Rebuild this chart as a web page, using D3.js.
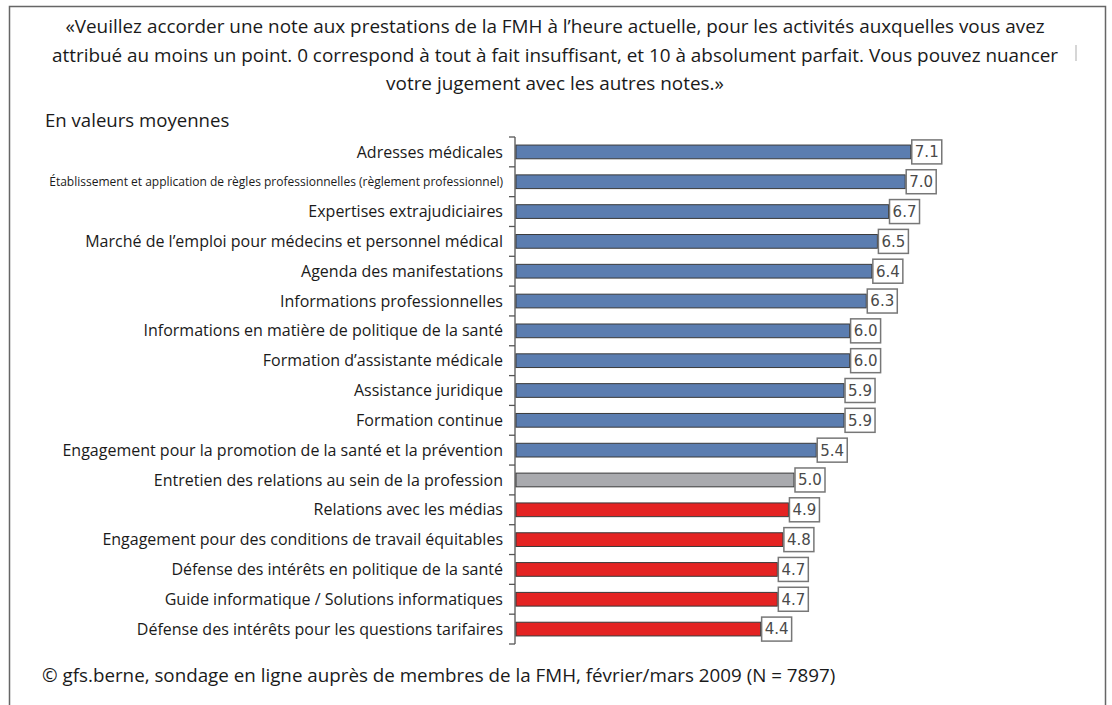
<!DOCTYPE html>
<html>
<head>
<meta charset="utf-8">
<script src="https://cdn.jsdelivr.net/npm/d3@7"></script>
<style>
  body { margin: 0; background: #fff; }
  svg { display: block; }
</style>
</head>
<body>
<script>
// Données
var categories = [
	"Adresses médicales",
	"Établissement et application de règles professionnelles (règlement professionnel)",
	"Expertises extrajudiciaires",
	"Marché de l’emploi pour médecins et personnel médical",
	"Agenda des manifestations",
	"Informations professionnelles",
	"Informations en matière de politique de la santé",
	"Formation d’assistante médicale",
	"Assistance juridique",
	"Formation continue",
	"Engagement pour la promotion de la santé et la prévention",
	"Entretien des relations au sein de la profession",
	"Relations avec les médias",
	"Engagement pour des conditions de travail équitables",
	"Défense des intérêts en politique de la santé",
	"Guide informatique / Solutions informatiques",
	"Défense des intérêts pour les questions tarifaires"
];
var values = [7.1, 7.0, 6.7, 6.5, 6.4, 6.3, 6.0, 6.0, 5.9, 5.9, 5.4, 5.0, 4.9, 4.8, 4.7, 4.7, 4.4];
var groups = ["pos", "pos", "pos", "pos", "pos", "pos", "pos", "pos", "pos", "pos", "pos", "neutre", "neg", "neg", "neg", "neg", "neg"];
var titleLines = [
	"«Veuillez accorder une note aux prestations de la FMH à l’heure actuelle, pour les activités auxquelles vous avez",
	"attribué au moins un point. 0 correspond à tout à fait insuffisant, et 10 à absolument parfait. Vous pouvez nuancer",
	"votre jugement avec les autres notes.»"
];
var subtitle = "En valeurs moyennes";
var source = "© gfs.berne, sondage en ligne auprès de membres de la FMH, février/mars 2009 (N = 7897)";

var data = categories.map(function (c, i) {
	return {name: c, value: values[i], group: groups[i]};
});

// Dimensions
var w = 1112, h = 705;
var font = "'Open Sans', 'Noto Sans', sans-serif";

var svg = d3.select("body").append("svg")
	.attr("width", w)
	.attr("height", h);

// Cadre
svg.append("path")
	.attr("d", "M9.5," + h + "V6.5H1105.5V" + h)
	.attr("fill", "none")
	.attr("stroke", "#666")
	.attr("stroke-width", 1.5);

// petite marque parasite à droite
svg.append("line")
	.attr("x1", 1076).attr("x2", 1076)
	.attr("y1", 45).attr("y2", 61)
	.attr("stroke", "#bbb")
	.attr("stroke-width", 1.2);

// Titre
svg.selectAll(".title").data(titleLines).enter()
	.append("text")
	.attr("class", "title")
	.attr("x", 555)
	.attr("y", function (d, i) { return 33 + i * 28.5; })
	.attr("text-anchor", "middle")
	.style("font-family", font)
	.style("font-size", "18.9px")
	.style("fill", "#1a1a1a")
	.text(function (d) { return d; });

svg.append("text")
	.attr("x", 45)
	.attr("y", 127)
	.style("font-family", font)
	.style("font-size", "18.6px")
	.style("fill", "#1a1a1a")
	.text(subtitle);

svg.append("text")
	.attr("x", 42)
	.attr("y", 682)
	.style("font-family", font)
	.style("font-size", "18.8px")
	.style("fill", "#1a1a1a")
	.text(source);

// Échelles
var x = d3.scaleLinear().domain([0, 10]).range([516, 1072]);
var y = d3.scaleBand().domain(categories).range([137, 644]).paddingInner(0.54).paddingOuter(0.27);

var color = d3.scaleOrdinal()
	.domain(["pos", "neutre", "neg"])
	.range(["#5b7db0", "#a9aaae", "#e42322"]);

// Axe
var axis = svg.append("g")
	.attr("transform", "translate(515,0)");
axis.append("line")
	.attr("y1", 137).attr("y2", 644)
	.attr("stroke", "#555").attr("stroke-width", 1.3);
var bounds = d3.range(categories.length + 1).map(function (i) {
	return 137 + i * (644 - 137) / categories.length;
});
axis.selectAll(".tick").data(bounds).enter()
	.append("line")
	.attr("x1", -6).attr("x2", 0)
	.attr("y1", function (d) { return d; })
	.attr("y2", function (d) { return d; })
	.attr("stroke", "#555").attr("stroke-width", 1.3);

// Étiquettes des catégories
svg.selectAll(".cat").data(data).enter()
	.append("text")
	.attr("class", "cat")
	.attr("x", 503)
	.attr("y", function (d) { return y(d.name) + y.bandwidth() / 2; })
	.attr("dy", "0.35em")
	.attr("text-anchor", "end")
	.style("font-family", font)
	.style("font-size", function (d, i) { return i === 1 ? "12px" : "16px"; })
	.style("fill", "#1a1a1a")
	.text(function (d) { return d.name; });

// Barres
svg.selectAll(".bar").data(data).enter()
	.append("rect")
	.attr("class", "bar")
	.attr("x", x(0))
	.attr("y", function (d) { return y(d.name); })
	.attr("width", function (d) { return x(d.value) - x(0); })
	.attr("height", y.bandwidth())
	.attr("fill", function (d) { return color(d.group); })
	.attr("stroke", "#3a3a3a")
	.attr("stroke-width", 1);

// Valeurs
var lab = svg.selectAll(".val").data(data).enter()
	.append("g")
	.attr("class", "val")
	.attr("transform", function (d) {
		return "translate(" + (x(d.value) + 1) + "," + (y(d.name) + y.bandwidth() / 2) + ")";
	});
lab.append("rect")
	.attr("x", 0).attr("y", -12)
	.attr("width", 30).attr("height", 24)
	.attr("fill", "#fff")
	.attr("stroke", "#777")
	.attr("stroke-width", 1.5);
lab.append("text")
	.attr("x", 15)
	.attr("dy", "0.36em")
	.attr("text-anchor", "middle")
	.style("font-family", "'DejaVu Sans', Verdana, sans-serif")
	.style("font-size", "15px")
	.style("fill", "#4a4a4a")
	.text(function (d) { return d.value.toFixed(1); });
</script>
</body>
</html>
